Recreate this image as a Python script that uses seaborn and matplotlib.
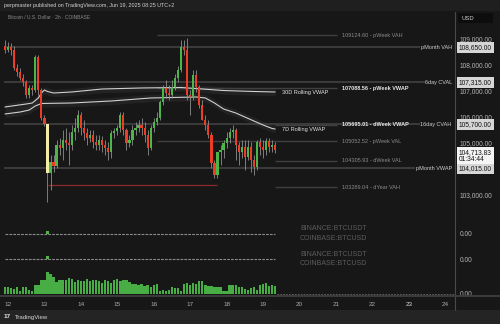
import numpy as np
import matplotlib
matplotlib.use("Agg")
import matplotlib.pyplot as plt
import matplotlib.transforms as mtransforms
from matplotlib.lines import Line2D
from matplotlib.patches import Rectangle
import seaborn as sns

sns.set_theme(style="dark", rc={
    "axes.facecolor": "#171717", "figure.facecolor": "#1e1e1e",
    "axes.edgecolor": "#171717", "grid.color": "#171717",
    "text.color": "#cccccc", "xtick.color": "#aaaaaa", "ytick.color": "#aaaaaa"})
plt.rcParams['font.family'] = ['Liberation Sans', 'DejaVu Sans']

# ---------------- data ----------------
opens = [108705, 108552, 108666, 108552, 107862, 107709, 107479, 107326, 106828, 107096,
         107019, 108283, 107019, 105946, 105717, 103839, 104261, 104108, 104912, 104797,
         105104, 104989, 104912, 105410, 105563, 106061, 105563, 105372, 105180, 105295,
         105027, 104912, 105104, 104912, 104797, 104644, 105372, 105448, 105563, 106061,
         105487, 104989, 105104, 105487, 105563, 105678, 105563, 105295, 104797, 105563,
         105793, 105946, 106559, 107096, 106904, 106828, 107134, 107479, 107785, 108666,
         108552, 106828, 106751, 107594, 107134, 106444, 105870, 105678, 105295, 104222,
         103763, 104644, 104721, 104989, 105180, 105410, 105487, 104912, 104644, 104835,
         104452, 104835, 104337, 104069, 105027, 104835, 104721, 105065, 104835, 104912]
highs = [108935, 108858, 108820, 108705, 108015, 107862, 107632, 107402, 107211, 107211,
         108360, 108360, 107096, 106061, 105717, 104529, 104529, 105104, 105180, 105487,
         105563, 105410, 105678, 105946, 106253, 106176, 105870, 105563, 105487, 105487,
         105295, 105295, 105257, 105104, 105027, 105487, 105563, 105678, 106176, 106176,
         105563, 105295, 105678, 105793, 105870, 105946, 105793, 105487, 105678, 105946,
         106176, 106636, 107211, 107402, 107211, 107402, 107632, 107939, 108935, 108935,
         109011, 107019, 107785, 107785, 107211, 106636, 106061, 105870, 105410, 104337,
         104414, 104912, 105104, 105410, 105563, 105678, 105563, 105027, 105104, 105104,
         105104, 105027, 104529, 105104, 105180, 105104, 105180, 105180, 105104, 105027]
lows = [108437, 108475, 108360, 107785, 107555, 107402, 107172, 106713, 106713, 106828,
        106943, 106828, 105870, 105640, 102728, 103188, 103878, 104031, 104529, 104337,
        104721, 104146, 104721, 105104, 105410, 105295, 105104, 104912, 105027, 104797,
        104721, 104721, 104644, 104529, 104337, 104414, 105180, 105295, 105410, 105295,
        104721, 104835, 104912, 105295, 105410, 105295, 105027, 104529, 104721, 105410,
        105678, 105870, 106444, 106713, 106636, 106713, 107019, 107326, 107709, 108360,
        106636, 106061, 106636, 106943, 106330, 105870, 105487, 105180, 104031, 103648,
        103648, 104146, 104414, 104797, 104989, 105180, 104337, 104146, 104414, 103954,
        104337, 103878, 103763, 103954, 104529, 104414, 104529, 104644, 104644, 104606]
closes = [108552, 108666, 108552, 107862, 107709, 107479, 107326, 106828, 107096, 107019,
          108283, 107019, 105946, 105717, 103839, 104261, 104108, 104912, 104797, 105104,
          104989, 104912, 105410, 105563, 106061, 105563, 105372, 105180, 105295, 105027,
          104912, 105104, 104912, 104797, 104644, 105372, 105448, 105563, 106061, 105487,
          104989, 105104, 105487, 105563, 105678, 105563, 105295, 104797, 105563, 105793,
          105946, 106559, 107096, 106904, 106828, 107134, 107479, 107785, 108666, 108552,
          106828, 106751, 107594, 107134, 106444, 105870, 105678, 105295, 104222, 103763,
          104644, 104721, 104989, 105180, 105410, 105487, 104912, 104644, 104835, 104452,
          104835, 104337, 104069, 105027, 104835, 104721, 105065, 104835, 104912, 104714]
volumes = [600, 570, 500, 400, 600, 200, 570, 570, 330, 270,
           830, 830, 1230, 1230, 2000, 1830, 1570, 1070, 1230, 1270,
           1300, 1470, 1330, 1070, 1230, 1130, 1130, 1330, 1130, 1230,
           1230, 1130, 1030, 1230, 1170, 1030, 1230, 1330, 1130, 1230,
           1230, 1070, 930, 900, 830, 870, 730, 800, 570, 830,
           870, 230, 330, 230, 330, 600, 500, 530, 230, 870,
           1000, 770, 1000, 900, 1170, 1170, 770, 730, 700, 630,
           570, 600, 230, 270, 770, 830, 770, 570, 600, 470,
           330, 500, 600, 330, 770, 870, 1000, 730, 770, 670]
highlight_idx = 14

vwap30_idx = [0, 3, 7, 9, 11, 12, 13, 14, 16, 22, 32, 45, 58, 65, 72, 82, 89]
vwap30_val = [106368, 106418, 106483, 106521, 106713, 106904, 107019, 106962, 106904,
              106943, 107057, 107096, 107115, 107057, 106999, 106962, 106943]
vwap7_idx = [0, 5, 8, 10, 12, 22, 35, 48, 63, 66, 69, 72, 76, 79, 82, 85, 88, 89]
vwap7_val = [106100, 106176, 106253, 106406, 106502, 106521, 106598, 106713, 106751,
             106713, 106521, 106291, 106138, 105985, 105831, 105678, 105544, 105525]

# levels with right-side labels + price tag
tag_names = ["pMonth VAH", "6day CVAL", "16day CVAH", "pMonth VWAP"]
tag_values = [108650.00, 107315.00, 105700.00, 104015.00]
tag_line_end = [136.7, 138.3, 136.7, 135.0]
# levels with inline "value - name" labels
inline_names = ["pWeek VAH", "pWeek VWAP", "dWeek VWAP", "pWeek VAL", "dWeek VAL", "dYear VAH"]
inline_values = [109124.60, 107088.56, 105695.01, 105052.52, 104305.93, 103289.04]
inline_start = [50.1, 50.1, 88.9, 50.1, 88.9, 88.9]
inline_bright = [False, True, True, False, False, False]
red_level = 103361
red_span = (14.2, 69.8)
last_price = 104713.83
countdown = "01:34:44"
price_ticks = [103000, 105000, 106000, 107000, 108000, 109000]
day_labels = [12, 13, 14, 15, 16, 17, 18, 19, 20, 21, 22, 23, 24]
day_pos = [1, 13, 25, 37, 49, 61, 73, 85, 97, 109, 121, 133, 145]
spread_x = [0, 89]
spread_y = [0.0, 0.0]
spike_idx = [14]
spike_val = [3.0]

# ---------------- layout ----------------
W, H = 500, 324
def rect(x0, y0, x1, y1):
    return [x0 / W, 1 - y1 / H, (x1 - x0) / W, (y1 - y0) / H]

BG = "#171717"
GREEN = "#4cb648"
RED = "#ee3d26"
YELLOW = "#f2eeaa"
XL = (-0.32, 148.23)

fig = plt.figure(figsize=(5, 3.24), dpi=100, facecolor="#1f1f1f")
bg = fig.add_axes(rect(0, 11, 500, 310))
bg.set_facecolor(BG)
bg.set_xticks([]); bg.set_yticks([])
for s in bg.spines.values():
    s.set_visible(False)
bottom = fig.add_axes(rect(0, 310, 500, 324))
bottom.set_facecolor("#242424")
bottom.set_xticks([]); bottom.set_yticks([])
for s in bottom.spines.values():
    s.set_visible(False)

def clean(a):
    a.set_facecolor("none")
    for s in a.spines.values():
        s.set_visible(False)
    a.set_xlim(*XL)
    a.grid(False)

ax = fig.add_axes(rect(4, 12, 455, 212))
clean(ax)
ax.set_ylim(102345, 110007)

# VWAP bands and curves
ax.fill_between(vwap30_idx, np.array(vwap30_val) - 140, np.array(vwap30_val) + 140,
                color="white", alpha=0.05, lw=0, zorder=1)
ax.fill_between(vwap7_idx, np.array(vwap7_val) - 140, np.array(vwap7_val) + 140,
                color="white", alpha=0.05, lw=0, zorder=1)
sns.lineplot(x=vwap30_idx, y=vwap30_val, ax=ax, color="#cfcfcf", lw=0.8, zorder=2)
sns.lineplot(x=vwap7_idx, y=vwap7_val, ax=ax, color="#cfcfcf", lw=0.8, zorder=2)

# horizontal levels
for v, e in zip(tag_values, tag_line_end):
    ax.hlines(v, XL[0], e, color="#454545", lw=1.1, zorder=1)
for v, s in zip(inline_values, inline_start):
    ax.hlines(v, s, 109.2, color="#404040", lw=1.0, zorder=1)
ax.hlines(red_level, red_span[0], red_span[1], color="#8a2a2a", lw=0.9, zorder=1)

# candles
n = len(closes)
idx = np.arange(n)
o = np.array(opens, float); h = np.array(highs, float)
l = np.array(lows, float); c = np.array(closes, float)
cols = [GREEN if cc >= oo else RED for oo, cc in zip(o, c)]
cols[highlight_idx] = YELLOW
ax.vlines(idx, l, h, color="#8e8e8e", lw=0.6, zorder=3)
ax.bar(idx, np.maximum(np.abs(c - o), 25), bottom=np.minimum(o, c), width=0.72,
       color=cols, lw=0, zorder=4)

# labels for VWAPs
ax.text(91.25, 106916, "30D Rolling VWAP", color="#e6e6e6", fontsize=4.0, va="center", zorder=6)
ax.text(91.25, 105514, "7D Rolling VWAP", color="#e6e6e6", fontsize=4.0, va="center", zorder=6)
for nm, v, br in zip(inline_names, inline_values, inline_bright):
    ax.text(111.0, v, f"{v:.2f} - {nm}", color="#e6e6e6" if br else "#8a8a8a",
            fontsize=4.0, va="center", zorder=6,
            fontweight="bold" if br else "normal")
for nm, v in zip(tag_names, tag_values):
    ax.text(147.2, v, nm, color="#cfcfcf", fontsize=4.0, va="center", ha="right", zorder=6)

# price axis
ax.yaxis.tick_right()
ax.set_yticks(price_ticks)
ax.set_yticklabels([f"{t:,.2f}" for t in price_ticks])
ax.tick_params(axis="y", length=0, pad=3.6, labelsize=4.8, labelcolor="#b4b4b4")
ax.set_xticks([])
trf = mtransforms.blended_transform_factory(fig.transFigure, ax.transData)
for v in tag_values:
    ax.text(459 / W, v, f"{v:,.2f}", transform=trf, fontsize=4.8, color="#111111",
            va="center", ha="left", zorder=8, clip_on=False,
            bbox=dict(boxstyle="square,pad=0.28", fc="#d6d6d6", ec="none"))
ax.text(459 / W, last_price + 60, f"{last_price:,.2f}\n{countdown}", transform=trf,
        fontsize=4.8, color="#111111", va="top", ha="left", zorder=8, clip_on=False,
        linespacing=1.0, bbox=dict(boxstyle="square,pad=0.25", fc="#f4f4f4", ec="none"))

# indicator panes
def spread_pane(y0, y1, ylim, lab_y):
    a = fig.add_axes(rect(4, y0, 455, y1))
    clean(a)
    a.set_ylim(*ylim)
    sns.lineplot(x=spread_x, y=spread_y, ax=a, color="#8a8a8a", lw=0.8, dashes=False)
    a.lines[-1].set_dashes([2.5, 1.0])
    a.bar(spike_idx, spike_val, width=0.9, color=GREEN, lw=0)
    a.text(97.2, lab_y[0], "BINANCE:BTCUSDT", color="#5c5c5c", fontsize=5, va="center")
    a.text(97.2, lab_y[1], "COINBASE:BTCUSD", color="#5c5c5c", fontsize=5, va="center")
    a.yaxis.tick_right()
    a.set_yticks([0]); a.set_yticklabels(["0.00"])
    a.tick_params(axis="y", length=0, pad=3.6, labelsize=4.8, labelcolor="#b4b4b4")
    a.set_xticks([])
    return a

p1 = spread_pane(212, 246, (-12.5, 21.5), (4.5, -4.5))
p2 = spread_pane(246, 268, (-9, 13), (4.0, -4.5))

# volume pane
av = fig.add_axes(rect(4, 268, 455, 296))
clean(av)
av.set_ylim(-220, 2380)
av.bar(idx, volumes, width=0.78, color=GREEN, lw=0, alpha=0.95)
av.hlines(0, 89.6, XL[1], color="#6a6a6a", lw=0.6, linestyles=(0, (2, 1.5)))
av.yaxis.tick_right()
av.set_yticks([0]); av.set_yticklabels(["0.00"])
av.tick_params(axis="y", length=0, pad=3.6, labelsize=4.8, labelcolor="#b4b4b4")
av.set_xticks(day_pos)
av.set_xticklabels([str(d) for d in day_labels])
av.tick_params(axis="x", length=0, pad=4.0, labelsize=4.6, labelcolor="#aaaaaa")
av.get_xticklabels()[day_labels.index(23)].set_color("#dcdcdc")

# frame lines
fig.add_artist(Line2D([455 / W, 455 / W], [1 - 12 / H, 1 - 310 / H], color="#4a4a4a", lw=0.8))
fig.add_artist(Line2D([0, 1], [1 - 296 / H, 1 - 296 / H], color="#3c3c3c", lw=1.4))

# USD box
fig.add_artist(Rectangle((458 / W, 1 - 23 / H), 35 / W, 10 / H, transform=fig.transFigure,
                         fc="#0d0d0d", ec="none"))
fig.text(461 / W, 1 - 18 / H, "USD", color="#cfcfcf", fontsize=4.2, va="center")

# header texts
fig.text(4 / W, 1 - 5.5 / H, "perpmaster published on TradingView.com, Jun 19, 2025 08:25 UTC+2",
         color="#d2d2d2", fontsize=3.9, va="center")
fig.text(8 / W, 1 - 17.5 / H, "Bitcoin / U.S. Dollar · 2h · COINBASE",
         color="#8c8c8c", fontsize=3.5, va="center")
fig.text(4 / W, 1 - 317 / H, "17", color="#e8e8e8", fontsize=4.6, va="center", fontweight="bold")
fig.text(15 / W, 1 - 317 / H, "TradingView", color="#d8d8d8", fontsize=4.3, va="center")

fig.savefig("out.png", dpi=100, facecolor=fig.get_facecolor())
